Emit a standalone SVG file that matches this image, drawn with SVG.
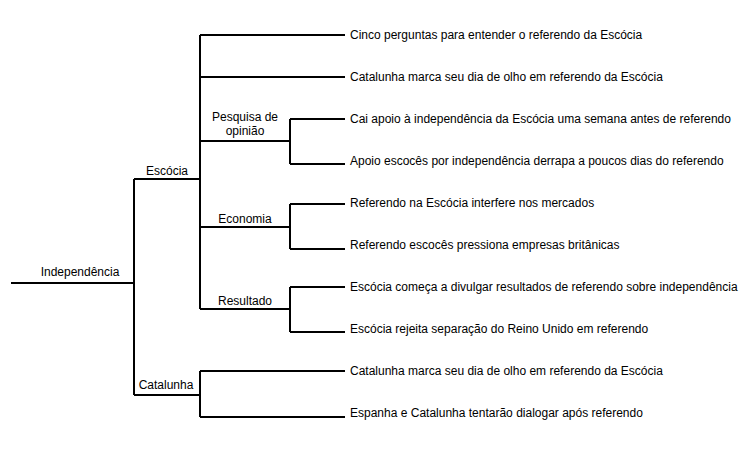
<svg xmlns="http://www.w3.org/2000/svg" width="752" height="450" viewBox="0 0 752 450">
<style>
.l{fill:none;stroke:#000;stroke-width:2}
text{font-family:"Liberation Sans",Arial,sans-serif;font-size:12px;fill:#000}
.leaf{dominant-baseline:central}
.br{text-anchor:middle}
</style>
<rect width="752" height="450" fill="#fff"/>
<g id="connectors">
<path class="l" d="M11 283H134M134 179V395M134 179H200M134 395H200"/>
<path class="l" d="M200 35V309M200 35H345M200 77H345M200 141H290M200 227H290M200 309H290"/>
<path class="l" d="M290 119V164M290 119H345M290 164H345"/>
<path class="l" d="M290 204V249M290 204H345M290 249H345"/>
<path class="l" d="M290 287V332M290 287H345M290 332H345"/>
<path class="l" d="M200 371V417M200 371H345M200 417H345"/>
</g>
<g id="n-root"><text class="br" x="80" y="276">Independência</text></g>
<g id="n-escocia"><text class="br" x="167" y="175">Escócia</text></g>
<g id="n-catalunha"><text class="br" x="166" y="389">Catalunha</text></g>
<g id="n-pesquisa"><text class="br" x="245" y="121">Pesquisa de</text><text class="br" x="245" y="135">opinião</text></g>
<g id="n-economia"><text class="br" x="245" y="223">Economia</text></g>
<g id="n-resultado"><text class="br" x="245" y="305">Resultado</text></g>
<g id="leaf1"><text class="leaf" x="350" y="35">Cinco perguntas para entender o referendo da Escócia</text></g>
<g id="leaf2"><text class="leaf" x="350" y="77">Catalunha marca seu dia de olho em referendo da Escócia</text></g>
<g id="leaf3"><text class="leaf" x="350" y="119">Cai apoio à independência da Escócia uma semana antes de referendo</text></g>
<g id="leaf4"><text class="leaf" x="350" y="161">Apoio escocês por independência derrapa a poucos dias do referendo</text></g>
<g id="leaf5"><text class="leaf" x="350" y="203">Referendo na Escócia interfere nos mercados</text></g>
<g id="leaf6"><text class="leaf" x="350" y="245">Referendo escocês pressiona empresas britânicas</text></g>
<g id="leaf7"><text class="leaf" x="350" y="287">Escócia começa a divulgar resultados de referendo sobre independência</text></g>
<g id="leaf8"><text class="leaf" x="350" y="329">Escócia rejeita separação do Reino Unido em referendo</text></g>
<g id="leaf9"><text class="leaf" x="350" y="371">Catalunha marca seu dia de olho em referendo da Escócia</text></g>
<g id="leaf10"><text class="leaf" x="350" y="413">Espanha e Catalunha tentarão dialogar após referendo</text></g>
</svg>
